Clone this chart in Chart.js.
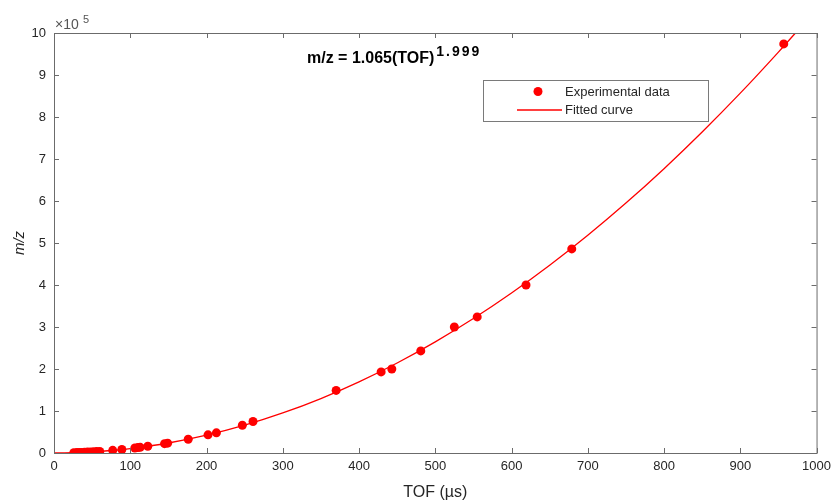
<!DOCTYPE html>
<html>
<head>
<meta charset="utf-8">
<script src="https://cdn.jsdelivr.net/npm/chart.js@4"></script>
<style>
  html, body { margin: 0; padding: 0; background: #fff; }
  #wrap { width: 837px; height: 504px; }
</style>
</head>
<body>
<div id="wrap"><canvas id="tofChart" width="837" height="504"></canvas></div>
<script>
// Datos experimentales (TOF en µs, m/z en unidades de 1e5)
const tofExp = [26, 30, 33, 36, 40, 44, 48, 52, 56, 60, 77, 89, 106, 110, 113, 123, 145, 149, 176, 202, 213, 247, 261, 370, 429, 443, 481, 525, 555, 619, 679, 957];
const mzExp  = [0.007, 0.010, 0.012, 0.014, 0.017, 0.021, 0.024, 0.029, 0.033, 0.038, 0.063, 0.084, 0.119, 0.128, 0.135, 0.160, 0.223, 0.235, 0.328, 0.432, 0.480, 0.660, 0.750, 1.49, 1.93, 2.00, 2.43, 3.00, 3.24, 4.00, 4.86, 9.74];

// Curva ajustada
const tofFit = [0, 25, 50, 75, 100, 150, 200, 250, 300, 350, 400, 450, 500, 550, 600, 650, 700, 750, 800, 850, 900, 950, 980];
const mzFit  = [0, 0.007, 0.027, 0.060, 0.106, 0.238, 0.424, 0.662, 0.953, 1.297, 1.694, 2.143, 2.646, 3.201, 3.809, 4.470, 5.184, 5.951, 6.770, 7.643, 8.568, 9.546, 10.158];

const xTicks = [0, 100, 200, 300, 400, 500, 600, 700, 800, 900, 1000];
const yTicks = [0, 1, 2, 3, 4, 5, 6, 7, 8, 9, 10];

const legendLabels = ['Experimental data', 'Fitted curve'];
const axisColor = '#6b6b6b';
const textColor = '#262626';
const fontFam = '"Liberation Sans", Arial, sans-serif';

// Caja, marcas hacia adentro, leyenda y ecuación (estilo MATLAB)
const matlabBox = {
    id: 'matlabBox',
    afterDatasetsDraw(chart) {
        const ctx = chart.ctx;
        const a = chart.chartArea;
        const sx = chart.scales.x, sy = chart.scales.y;
        ctx.save();
        ctx.strokeStyle = axisColor;
        ctx.lineWidth = 1;
        ctx.strokeRect(a.left + 0.5, a.top + 0.5, a.right - a.left, a.bottom - a.top);
        const len = 5;
        ctx.beginPath();
        xTicks.forEach(v => {
            const px = Math.round(sx.getPixelForValue(v)) + 0.5;
            ctx.moveTo(px, a.bottom); ctx.lineTo(px, a.bottom - len);
            ctx.moveTo(px, a.top); ctx.lineTo(px, a.top + len);
        });
        yTicks.forEach(v => {
            const py = Math.round(sy.getPixelForValue(v)) + 0.5;
            ctx.moveTo(a.left, py); ctx.lineTo(a.left + len, py);
            ctx.moveTo(a.right, py); ctx.lineTo(a.right - len, py);
        });
        ctx.stroke();

        // exponente del eje y
        ctx.fillStyle = '#555';
        ctx.textBaseline = 'alphabetic';
        ctx.font = '14px ' + fontFam;
        ctx.fillText('\u00d710', a.left + 1, 29);
        ctx.font = '11px ' + fontFam;
        ctx.fillText('5', 83, 23);

        // ecuación
        ctx.fillStyle = '#000';
        ctx.font = 'bold 16px ' + fontFam;
        const eq = 'm/z = 1.065(TOF)';
        ctx.fillText(eq, 307, 63);
        const w = ctx.measureText(eq).width;
        ctx.font = 'bold 14px ' + fontFam;
        ctx.letterSpacing = '2px';
        ctx.fillText('1.999', 307 + w + 2, 56);
        ctx.letterSpacing = '0px';

        // leyenda
        ctx.fillStyle = '#fff';
        ctx.fillRect(483, 80, 225, 41);
        ctx.strokeStyle = '#7a7a7a';
        ctx.strokeRect(483.5, 80.5, 225, 41);
        ctx.fillStyle = '#ff0000';
        ctx.beginPath();
        ctx.arc(538, 91.5, 4.5, 0, Math.PI * 2);
        ctx.fill();
        ctx.strokeStyle = '#ff0000';
        ctx.lineWidth = 1.3;
        ctx.beginPath();
        ctx.moveTo(517, 110); ctx.lineTo(562, 110);
        ctx.stroke();
        ctx.fillStyle = textColor;
        ctx.font = '13px ' + fontFam;
        ctx.textBaseline = 'middle';
        ctx.fillText(legendLabels[0], 565, 92);
        ctx.fillText(legendLabels[1], 565, 110);
        ctx.restore();
    }
};

const expPoints = tofExp.map((t, i) => ({ x: t, y: mzExp[i] }));
const fitPoints = tofFit.map((t, i) => ({ x: t, y: mzFit[i] }));

new Chart(document.getElementById('tofChart').getContext('2d'), {
    type: 'scatter',
    data: {
        datasets: [
            {
                label: legendLabels[1],
                data: fitPoints,
                showLine: true,
                borderColor: '#ff0000',
                borderWidth: 1.3,
                pointRadius: 0,
                cubicInterpolationMode: 'monotone',
                order: 2
            },
            {
                label: legendLabels[0],
                data: expPoints,
                backgroundColor: '#ff0000',
                borderColor: '#ff0000',
                pointRadius: 4.5,
                borderWidth: 0,
                order: 1
            }
        ]
    },
    plugins: [matlabBox],
    options: {
        responsive: false,
        animation: false,
        layout: { padding: { left: 0, right: 20, top: 33, bottom: 0 } },
        plugins: {
            legend: { display: false },
            tooltip: { enabled: false }
        },
        scales: {
            x: {
                type: 'linear',
                min: 0, max: 1000,
                afterFit(s) { s.height = 51; },
                afterBuildTicks(s) { s.ticks = xTicks.map(v => ({ value: v })); },
                grid: { display: false, drawTicks: false },
                border: { display: false },
                ticks: {
                    padding: 6,
                    color: textColor,
                    maxRotation: 0,
                    callback: v => String(v),
                    font: { family: fontFam, size: 13 }
                },
                title: {
                    display: true,
                    text: 'TOF (\u00b5s)',
                    color: textColor,
                    padding: { top: 4, bottom: 2 },
                    font: { family: fontFam, size: 16 }
                }
            },
            y: {
                type: 'linear',
                min: 0, max: 10,
                afterFit(s) { s.width = 54; },
                afterBuildTicks(s) { s.ticks = yTicks.map(v => ({ value: v })); },
                grid: { display: false, drawTicks: false },
                border: { display: false },
                ticks: {
                    padding: 8,
                    color: textColor,
                    callback: v => String(v),
                    font: { family: fontFam, size: 13 }
                },
                title: {
                    display: true,
                    text: 'm/z',
                    color: textColor,
                    padding: { top: 11, bottom: 0 },
                    font: { family: fontFam, size: 15, style: 'italic' }
                }
            }
        }
    }
});
</script>
</body>
</html>
